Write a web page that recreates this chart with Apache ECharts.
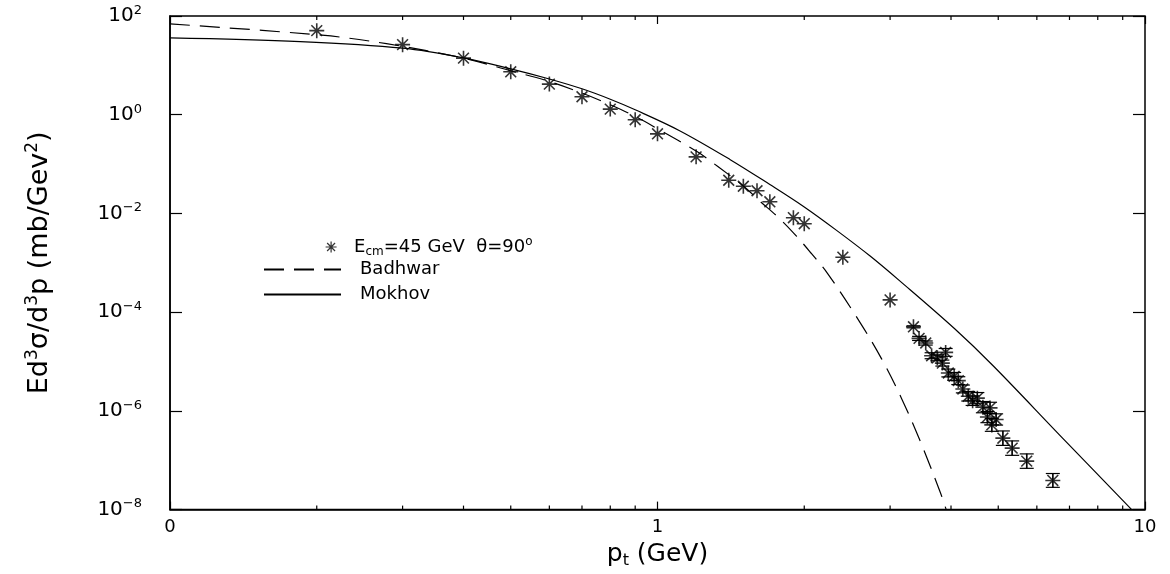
<!DOCTYPE html>
<html>
<head>
<meta charset="utf-8">
<script src="https://cdn.jsdelivr.net/npm/echarts@6/dist/echarts.min.js"></script>
<style>
  html, body { margin: 0; background: #fff; }
  #pt-chart { width: 1170px; height: 574px; }
</style>
</head>
<body>
<div id="pt-chart"></div>
<script>
// measured points, E_cm = 45 GeV, theta = 90 deg
const ptX = [0.2, 0.3, 0.4, 0.5, 0.6, 0.7, 0.8, 0.9, 1.0, 1.2, 1.4, 1.5, 1.6, 1.7, 1.9, 2.0, 2.4,
  3.0, 3.35, 3.44, 3.55, 3.65, 3.75, 3.84, 3.9, 3.95, 4.06, 4.14, 4.23, 4.34, 4.43, 4.53,
  4.65, 4.75, 4.81, 4.85, 4.95, 5.11, 5.34, 5.72, 6.47];
const ptY = [50.5, 26.3, 14.0, 7.4, 4.17, 2.31, 1.30, 0.79, 0.41, 0.14, 0.047, 0.0356, 0.0288, 0.0172, 0.0082, 0.0062, 0.0013,
  1.77e-4, 5.05e-5, 2.94e-5, 2.37e-5, 1.31e-5, 1.19e-5, 9.3e-6, 1.53e-5, 5.86e-6, 5.0e-6, 4.1e-6, 2.78e-6, 1.98e-6, 1.61e-6, 1.81e-6,
  1.19e-6, 7.5e-7, 1.15e-6, 5.2e-7, 6.7e-7, 2.8e-7, 1.76e-7, 9.6e-8, 3.9e-8];
// error bar size as a ratio (value*f .. value/f); 1 = no visible bar
const errFactor = [1, 1, 1, 1, 1, 1, 1, 1, 1, 1, 1, 1, 1, 1, 1, 1, 1,
  1, 1.05, 1.1, 1.1, 1.15, 1.15, 1.15, 1.2, 1.2, 1.2, 1.2, 1.2, 1.25, 1.25, 1.3,
  1.3, 1.3, 1.3, 1.35, 1.3, 1.4, 1.4, 1.4, 1.38];

// Badhwar parametrisation (dashed)
const badhwarX = [0.1, 0.205, 0.278, 0.4, 0.5, 0.6, 0.7, 0.8, 0.9, 1.0, 1.205, 1.33, 1.5, 1.62, 1.77, 1.93,
  2.07, 2.23, 2.6, 2.884, 3.17, 3.455, 3.8, 3.91];
const badhwarY = [69, 40.8, 27.5, 14, 7.74, 4.71, 2.74, 1.59, 0.925, 0.52, 0.179, 0.089, 0.036, 0.0179, 8.3e-3, 3.43e-3,
  1.53e-3, 6.2e-4, 6.3e-5, 1.12e-5, 1.75e-6, 2.5e-7, 2.28e-8, 1e-8];

// Mokhov parametrisation (solid)
const mokhovX = [0.1, 0.185, 0.3, 0.4, 0.5, 0.6, 0.7, 0.8, 0.9, 1.11, 1.41, 1.7, 1.99, 2.33, 2.73, 3.14, 4.07, 4.88, 6.69, 9.39];
const mokhovY = [36, 30.3, 22.3, 14.2, 8.49, 5.3, 3.35, 2.06, 1.26, 0.475, 0.123, 0.0386, 0.014, 4.54e-3, 1.37e-3, 4.3e-4, 4.6e-5, 8.2e-6, 3.2e-7, 1e-8];

const xTickValues = [0.1, 1, 10];
const xTickLabels = ['0', '1', '10'];
const xMinorTicks = [0.2, 0.3, 0.4, 0.5, 0.6, 0.7, 0.8, 0.9, 2, 3, 4, 5, 6, 7, 8, 9];
const yMin = 1e-8, yMax = 1e2;

const FONT = 'DejaVu Sans';
const STAR = 'path://M0,-1L0,1M-1,0L1,0M-0.72,-0.72L0.72,0.72M-0.72,0.72L0.72,-0.72';

const chartDom = document.getElementById('pt-chart');
const myChart = echarts.init(chartDom);

const pairs = (xs, ys) => xs.map((x, i) => [x, ys[i]]);
const errData = ptX
  .map((x, i) => [x, ptY[i] / errFactor[i], ptY[i] * errFactor[i]])
  .filter((d, i) => errFactor[i] > 1);

const xLabel = (v) => {
  let best = 0;
  xTickValues.forEach((t, i) => {
    if (Math.abs(Math.log10(t) - Math.log10(v)) < Math.abs(Math.log10(xTickValues[best]) - Math.log10(v))) best = i;
  });
  return xTickLabels[best];
};
const yLabel = (v) => {
  const e = Math.round(Math.log10(v));
  return '{b|10}{s|' + (e < 0 ? '\u2212' + (-e) : e) + '}';
};

const line = (x1, y1, x2, y2) => ({
  type: 'line',
  shape: { x1, y1, x2, y2 },
  style: { stroke: '#000', lineWidth: 1.2 }
});

const option = {
  animation: false,
  backgroundColor: '#fff',
  textStyle: { fontFamily: FONT, color: '#000' },
  grid: {
    left: 170, right: 25, top: 16, bottom: 63,
    show: true, borderColor: '#000', borderWidth: 1.5, backgroundColor: 'transparent'
  },
  legend: [
    {
      data: ['data'],
      left: 320, top: 231,
      itemWidth: 24, itemHeight: 11,
      selectedMode: false,
      icon: STAR,
      itemStyle: { color: '#000', borderColor: '#000', borderWidth: 1.2 },
      formatter: () => '{b|E}{sub|cm}{b|=45 GeV  \u03b8=90}{sup|o}',
      textStyle: {
        fontFamily: FONT, color: '#000', fontSize: 18, padding: [0, 0, 0, 6],
        rich: {
          b: { fontFamily: FONT, fontSize: 18, color: '#000', lineHeight: 22 },
          sub: { fontFamily: FONT, fontSize: 12, color: '#000', verticalAlign: 'bottom', lineHeight: 22 },
          sup: { fontFamily: FONT, fontSize: 12, color: '#000', verticalAlign: 'top', lineHeight: 22 }
        }
      }
    },
    {
      data: ['Badhwar', 'Mokhov'],
      orient: 'vertical',
      left: 258, top: 254,
      itemWidth: 77, itemHeight: 14, itemGap: 4,
      selectedMode: false,
      itemStyle: { color: 'rgba(0,0,0,0)', borderColor: 'rgba(0,0,0,0)', borderWidth: 0, opacity: 0 },
      textStyle: { fontFamily: FONT, color: '#000', fontSize: 18, lineHeight: 21, padding: [0, 0, 0, 14] }
    }
  ],
  xAxis: [
    {
      type: 'log', logBase: 10, min: 0.1, max: 10, interval: 1,
      name: '{b|p}{sub|t}{b| (GeV)}',
      nameLocation: 'middle', nameGap: 27,
      nameTextStyle: {
        rich: {
          b: { fontFamily: FONT, fontSize: 25, color: '#000', lineHeight: 30 },
          sub: { fontFamily: FONT, fontSize: 16, color: '#000', verticalAlign: 'bottom', lineHeight: 30 }
        }
      },
      axisLine: { show: true, lineStyle: { color: '#000', width: 1.5 } },
      axisTick: { show: true, inside: true, length: 8, lineStyle: { color: '#000', width: 1.2 } },
      axisLabel: { fontFamily: FONT, fontSize: 18, color: '#000', margin: 9, formatter: xLabel },
      splitLine: { show: false }
    },
    {
      type: 'log', logBase: 10, min: 0.1, max: 10, interval: 1, position: 'top',
      axisLine: { show: false },
      axisTick: { show: true, inside: true, length: 8, lineStyle: { color: '#000', width: 1.2 } },
      axisLabel: { show: false },
      splitLine: { show: false }
    }
  ],
  yAxis: [
    {
      type: 'log', logBase: 10, min: yMin, max: yMax, interval: 2,
      name: 'Ed{s|3}\u03c3/d{s|3}p (mb/Gev{s|2})',
      nameLocation: 'middle', nameRotate: 90, nameGap: 114,
      nameTextStyle: {
        fontFamily: FONT, fontSize: 27, color: '#000',
        rich: {
          s: { fontFamily: FONT, fontSize: 17, color: '#000', verticalAlign: 'top', lineHeight: 32 }
        }
      },
      axisLine: { show: true, lineStyle: { color: '#000', width: 1.5 } },
      axisTick: { show: true, inside: true, length: 12, lineStyle: { color: '#000', width: 1.2 } },
      axisLabel: {
        margin: 28, formatter: yLabel,
        rich: {
          b: { fontFamily: FONT, fontSize: 20, color: '#000', lineHeight: 24 },
          s: { fontFamily: FONT, fontSize: 13, color: '#000', verticalAlign: 'top', lineHeight: 24 }
        }
      },
      splitLine: { show: false }
    },
    {
      type: 'log', logBase: 10, min: yMin, max: yMax, interval: 2, position: 'right',
      axisLine: { show: false },
      axisTick: { show: true, inside: true, length: 12, lineStyle: { color: '#000', width: 1.2 } },
      axisLabel: { show: false },
      splitLine: { show: false }
    }
  ],
  series: [
    {
      name: 'Badhwar',
      type: 'line',
      data: pairs(badhwarX, badhwarY),
      smooth: 0.35,
      symbol: 'none',
      showSymbol: false,
      lineStyle: { color: '#000', width: 1.2, type: [20, 10] },
      itemStyle: { color: '#000' },
      z: 3
    },
    {
      name: 'Mokhov',
      type: 'line',
      data: pairs(mokhovX, mokhovY),
      smooth: 0.35,
      symbol: 'none',
      showSymbol: false,
      lineStyle: { color: '#000', width: 1.2 },
      itemStyle: { color: '#000' },
      z: 3
    },
    {
      name: 'errors',
      type: 'custom',
      data: errData,
      encode: { x: 0, y: [1, 2] },
      silent: true,
      z: 4,
      renderItem: (params, api) => {
        const x = api.value(0);
        const lo = api.coord([x, api.value(1)]);
        const hi = api.coord([x, api.value(2)]);
        const w = 7;
        return {
          type: 'group',
          children: [
            line(hi[0], hi[1], lo[0], lo[1]),
            line(hi[0] - w, hi[1], hi[0] + w, hi[1]),
            line(lo[0] - w, lo[1], lo[0] + w, lo[1])
          ]
        };
      }
    },
    {
      name: 'minorTicks',
      type: 'custom',
      data: xMinorTicks.map((v) => [v, yMin]),
      encode: { x: 0, y: 1 },
      silent: true,
      clip: false,
      z: 5,
      renderItem: (params, api) => {
        const v = api.value(0);
        const b = api.coord([v, yMin]);
        const t = api.coord([v, yMax]);
        return {
          type: 'group',
          children: [line(b[0], b[1], b[0], b[1] - 4), line(t[0], t[1], t[0], t[1] + 4)]
        };
      }
    },
    {
      name: 'data',
      type: 'scatter',
      data: pairs(ptX, ptY),
      symbol: STAR,
      symbolSize: 15,
      itemStyle: { color: '#000', borderColor: '#000', borderWidth: 1.6 },
      z: 6
    }
  ]
};

myChart.setOption(option);
</script>
</body>
</html>
